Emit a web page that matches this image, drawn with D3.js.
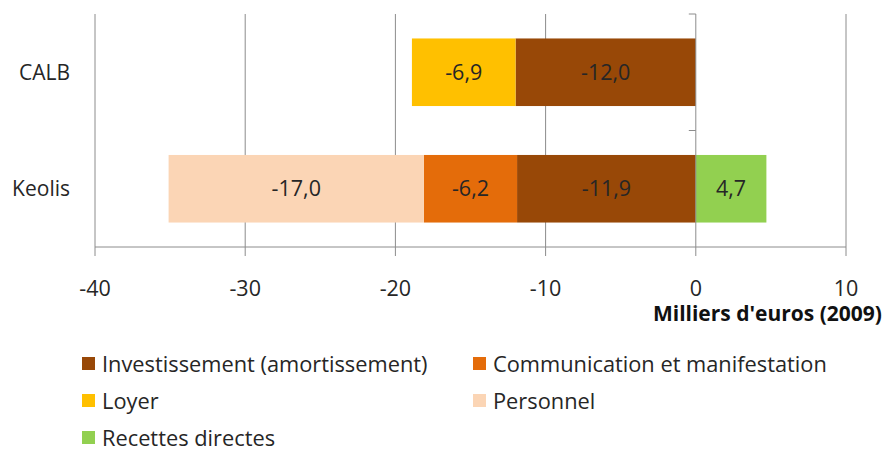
<!DOCTYPE html>
<html>
<head>
<meta charset="utf-8">
<script src="https://cdn.jsdelivr.net/npm/d3@7"></script>
<style>
  body { margin: 0; background: #fff; }
  text { font-family: "Open Sans", Lato, sans-serif; fill: #262626; }
</style>
</head>
<body>
<div id="chart"></div>
<script>
// data
const categories = ["CALB", "Keolis"];
const seriesNames = ["Investissement (amortissement)", "Communication et manifestation", "Loyer", "Personnel", "Recettes directes"];
const seriesColors = ["#984807", "#E46C0A", "#FFC000", "#FBD5B5", "#92D050"];
const investissement = [-12.0, -11.9];
const communication = [0, -6.2];
const loyer = [-6.9, 0];
const personnel = [0, -17.0];
const recettes = [0, 4.7];
const xTicks = [-40, -30, -20, -10, 0, 10];
const axisTitle = "Milliers d'euros (2009)";

const W = 886, H = 449;

const svg = d3.select("#chart").append("svg")
  .attr("width", W).attr("height", H);

const locale = d3.formatLocale({decimal: ",", thousands: " ", grouping: [3], currency: ["", "€"], minus: "-"});
const fmt = locale.format(".1f");
const tfmt = locale.format("d");

const x = d3.scaleLinear().domain([-40, 10]).range([95, 846]);
const y = d3.scaleBand().domain(categories).range([14, 247]).paddingInner(0.42).paddingOuter(0.21);

const allSeries = [investissement, communication, loyer, personnel, recettes];
const rows = categories.map((c, i) => {
  let r = {cat: c};
  seriesNames.forEach((s, k) => r[s] = allSeries[k][i]);
  return r;
});
const stacked = d3.stack().keys(seriesNames).offset(d3.stackOffsetDiverging)(rows);

// grid lines
svg.append("g").selectAll("line").data(xTicks.filter(t => t != 0)).enter().append("line")
  .attr("x1", d => x(d)).attr("x2", d => x(d))
  .attr("y1", 14).attr("y2", 256)
  .attr("stroke", "#8c8c8c").attr("stroke-width", 1);

// bars
const layers = svg.append("g").selectAll("g").data(stacked).enter().append("g")
  .attr("fill", (d, i) => seriesColors[i]);
layers.selectAll("rect").data(d => d.filter(p => p[1] - p[0] != 0)).enter().append("rect")
  .attr("x", d => x(d[0]))
  .attr("width", d => x(d[1]) - x(d[0]))
  .attr("y", d => y(d.data.cat))
  .attr("height", y.bandwidth());

layers.each(function(s) {
  d3.select(this).selectAll("text").data(s.filter(p => p[1] - p[0] != 0)).enter().append("text")
    .attr("x", d => (x(d[0]) + x(d[1])) / 2)
    .attr("y", d => y(d.data.cat) + y.bandwidth() / 2)
    .attr("dy", "0.36em")
    .attr("text-anchor", "middle")
    .style("font-size", "21.5px")
    .text(d => fmt(d.data[s.key]));
});

// axes lines
svg.append("line")
  .attr("x1", x(-40)).attr("x2", x(10)).attr("y1", 247).attr("y2", 247)
  .attr("stroke", "#8c8c8c");
svg.append("line")
  .attr("x1", x(0)).attr("x2", x(0)).attr("y1", 14).attr("y2", 256)
  .attr("stroke", "#8c8c8c");
// category ticks
svg.append("g").selectAll("line").data([0, 1]).enter().append("line")
  .attr("x1", x(0) - 7).attr("x2", x(0))
  .attr("y1", d => y.range()[0] + d * (y.range()[1] - y.range()[0]) / 2)
  .attr("y2", d => y.range()[0] + d * (y.range()[1] - y.range()[0]) / 2)
  .attr("stroke", "#8c8c8c");

svg.append("g").selectAll("text").data(xTicks).enter().append("text")
  .attr("x", d => x(d)).attr("y", 288).attr("dy", "0.36em")
  .attr("text-anchor", "middle")
  .style("font-size", "21.5px")
  .text(d => tfmt(d));

svg.append("text")
  .attr("x", 882).attr("y", 321)
  .attr("text-anchor", "end")
  .style("font-size", "21px").style("font-weight", "bold")
  .style("fill", "#111")
  .text(axisTitle);

// category labels
svg.append("g").selectAll("text").data(categories).enter().append("text")
  .attr("x", 70).attr("y", d => y(d) + y.bandwidth() / 2).attr("dy", "0.36em")
  .attr("text-anchor", "end")
  .style("font-size", "21px")
  .text(d => d);

// legend
const leg = svg.append("g").selectAll("g").data(seriesNames).enter().append("g")
  .attr("transform", (d, i) => "translate(" + (i % 2 == 0 ? 82 : 473) + "," + (364 + Math.floor(i / 2) * 37) + ")");
leg.append("rect").attr("x", 0).attr("y", -7).attr("width", 13).attr("height", 13)
  .attr("fill", (d, i) => seriesColors[i]);
leg.append("text").attr("x", 20).attr("y", 0).attr("dy", "0.36em")
  .style("font-size", "21.8px")
  .text(d => d);
</script>
</body>
</html>
